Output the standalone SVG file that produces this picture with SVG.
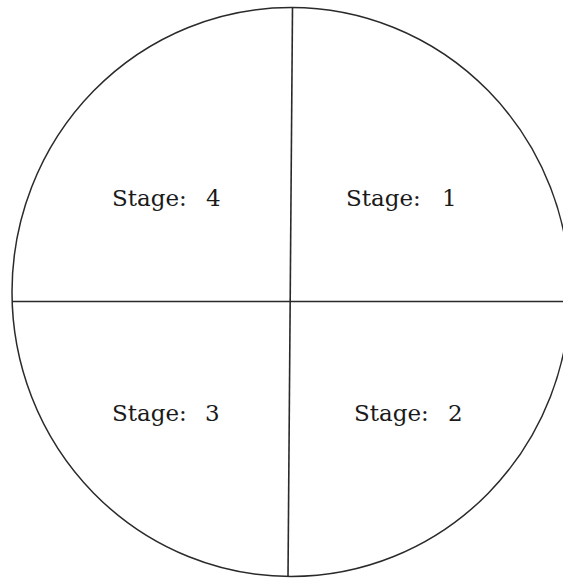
<svg xmlns="http://www.w3.org/2000/svg" width="563" height="578" viewBox="0 0 563 578">
<style>
.ring{fill:none;stroke:#2a2a2a;stroke-width:1.5}
.div{stroke:#2a2a2a;stroke-width:1.6}
.lbl{font-family:"DejaVu Serif","Liberation Serif",serif;font-size:23px;fill:#1a1a1a}
</style>
<rect width="563" height="578" fill="#ffffff"/>
<g id="circle">
<ellipse class="ring" cx="291" cy="292" rx="279" ry="284.5"/>
</g>
<g id="connectors">
<line class="div" x1="292.5" y1="7.5" x2="288" y2="577"/>
<line class="div" x1="12" y1="301.5" x2="563" y2="301.5"/>
</g>
<g id="stage4"><text class="lbl" x="112" y="206">Stage: <tspan x="206">4</tspan></text></g>
<g id="stage1"><text class="lbl" x="346" y="206">Stage: <tspan x="442">1</tspan></text></g>
<g id="stage3"><text class="lbl" x="112" y="421">Stage: <tspan x="205">3</tspan></text></g>
<g id="stage2"><text class="lbl" x="354" y="421">Stage: <tspan x="448">2</tspan></text></g>
</svg>
